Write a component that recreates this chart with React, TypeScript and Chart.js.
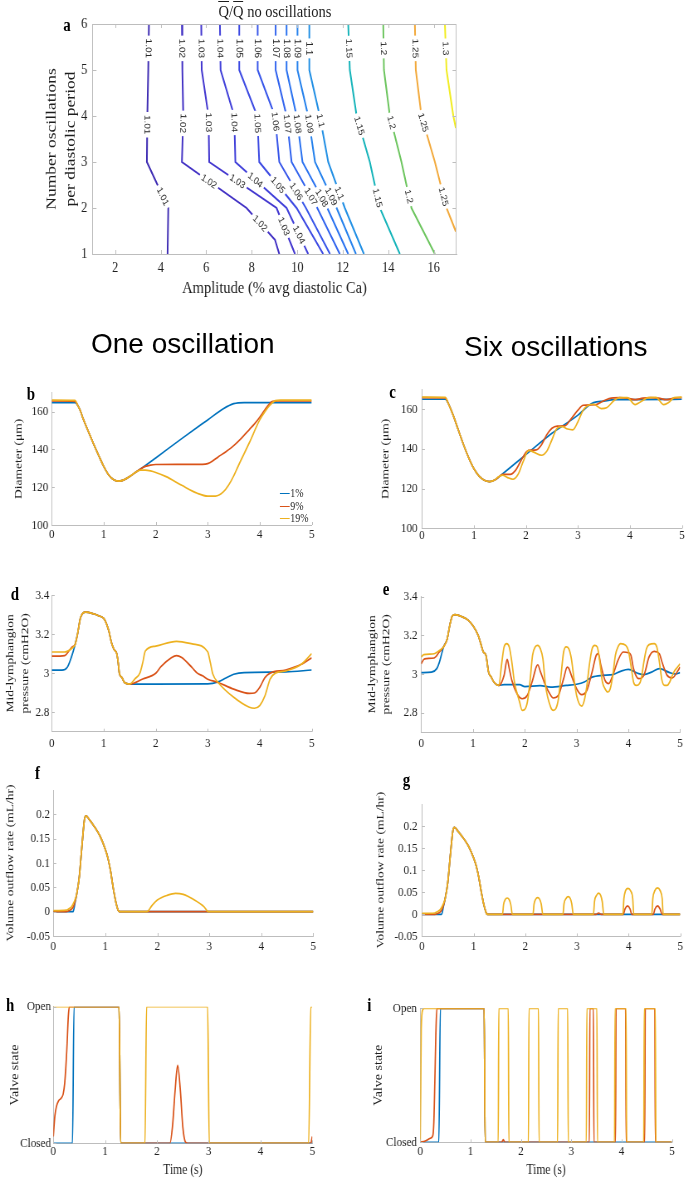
import React, { useEffect, useRef } from 'react';
import { Chart, registerables } from 'chart.js';

Chart.register(...registerables);

// The original figure is squeezed horizontally; reproduce that with one factor.
const S = 0.83;
const SERIF = '"Liberation Serif", "Times New Roman", Times, serif';
const SANS = '"Liberation Sans", Arial, Helvetica, sans-serif';
const INK = '#1e1e1e';
const AXIS = '#bdbdbd';
const BLUE = '#0072BD';
const ORANGE = '#D95319';
const YELLOW = '#EDB120';

type P = [number, number];

// ---------------- Panel a: contour map ----------------
const contourLevels = [1.01, 1.02, 1.03, 1.04, 1.05, 1.06, 1.07, 1.08, 1.09, 1.1, 1.15, 1.2, 1.25, 1.3];
const contourColors = ['#3f2db3', '#4231c4', '#4337cf', '#4140d9', '#3d4ae2', '#3856e9', '#3163ee', '#2a72f0', '#2581ec', '#218fe4', '#14b3b9', '#6dc55f', '#f2a93b', '#f1ec22'];
const c101: P[] = [[3.48, 6], [3.45, 5], [3.41, 4], [3.39, 3], [4.33, 2], [4.3, 1]];
const c102: P[] = [[4.93, 6], [4.95, 5], [4.99, 4], [4.93, 3], [7.77, 2], [9.02, 1.31], [9.21, 1]];
const c103: P[] = [[5.78, 6], [5.8, 5], [6.1, 4], [6.13, 3], [9.09, 2], [9.9, 1]];
const c104: P[] = [[6.6, 6], [6.63, 5], [7.23, 4], [7.28, 3], [9.53, 2], [10.48, 1]];
const c105: P[] = [[7.45, 6], [7.45, 5], [8.24, 4], [8.33, 3], [9.97, 2], [11.14, 1]];
const c106: P[] = [[8.26, 6], [8.26, 5], [9.02, 4], [9.21, 3], [10.38, 2], [11.44, 1]];
const c107: P[] = [[9.05, 6], [9.05, 5], [9.53, 4], [9.75, 3], [10.88, 2], [11.87, 1]];
const c108: P[] = [[9.53, 6], [9.53, 5], [9.97, 4], [10.23, 3], [11.32, 2], [12.24, 1]];
const c109: P[] = [[10.01, 6], [10.01, 5], [10.48, 4], [10.78, 3], [11.73, 2], [12.58, 1]];
const c110: P[] = [[10.53, 6], [10.53, 5], [10.99, 4], [11.36, 3], [12.09, 2], [12.93, 1]];
const c115: P[] = [[12.24, 6], [12.31, 5], [12.61, 4], [13.19, 3], [13.63, 2], [14.51, 1]];
const c120: P[] = [[13.78, 6], [13.81, 5], [14.07, 4], [14.58, 3], [15.02, 2], [16.05, 1]];
const c125: P[] = [[15.17, 6], [15.21, 5], [15.46, 4], [16.05, 3], [16.56, 2], [16.97, 1.49]];
const c130: P[] = [[16.49, 6], [16.56, 5], [16.86, 4], [16.97, 3.74]];
const contourLines = [c101, c102, c103, c104, c105, c106, c107, c108, c109, c110, c115, c120, c125, c130];
// [level index, y position] of each in-line label
const contourLabelSpots: P[] = [
  [0, 5.47], [1, 5.47], [2, 5.47], [3, 5.47], [4, 5.47], [5, 5.47], [6, 5.47], [7, 5.47], [8, 5.47], [9, 5.47], [10, 5.47], [11, 5.47], [12, 5.47], [13, 5.47],
  [0, 3.81], [1, 3.84], [2, 3.86], [3, 3.86], [4, 3.84], [5, 3.88], [6, 3.83], [7, 3.83], [8, 3.83], [9, 3.9], [10, 3.79], [11, 3.86], [12, 3.86],
  [0, 2.25], [1, 2.58], [2, 2.58], [3, 2.61], [4, 2.5], [5, 2.36], [6, 2.25], [7, 2.22], [8, 2.25], [9, 2.32], [10, 2.22], [11, 2.25], [12, 2.25],
  [1, 1.67], [2, 1.6], [3, 1.42],
];
const ampTicks = [2, 4, 6, 8, 10, 12, 14, 16];
const oscTicks = [1, 2, 3, 4, 5, 6];

// ---------------- shared ticks ----------------
const timeTicks = [0, 1, 2, 3, 4, 5];
const diamTicks = [100, 120, 140, 160];
const presTicks = [2.8, 3, 3.2, 3.4];
const flowTicks = [-0.05, 0, 0.05, 0.1, 0.15, 0.2];
const flowTickLabels = ['-0.05', '0', '0.05', '0.1', '0.15', '0.2'];
const valveTicks = [0, 1];
const valveTickLabels = ['Closed', 'Open'];
const legendLabels = ['1%', '9%', '19%'];
const legendColors = [BLUE, ORANGE, YELLOW];

// ---------------- b: diameter, one oscillation ----------------
const bDescent: P[] = [[0.5, 163.3], [0.55, 160.5], [0.6, 156.5], [0.7, 149.8], [0.8, 143.2], [0.9, 137], [1.0, 131], [1.1, 126.3], [1.2, 123.8], [1.3, 123.2], [1.4, 124], [1.5, 125.6], [1.6, 127.6]];
const bBlue: P[] = [[0, 164.8], [0.45, 164.7], ...bDescent, [1.7, 129.5], [2.0, 135.5], [2.5, 145.7], [3.0, 155.6], [3.3, 161.5], [3.5, 164.2], [3.7, 164.8], [5, 164.8]];
const bOrange: P[] = [[0, 165.6], [0.45, 165.4], ...bDescent, [1.7, 129.5], [1.8, 131], [1.9, 131.7], [2.0, 132], [2.9, 132.1], [3.0, 132.5], [3.1, 134], [3.2, 136], [3.35, 138.8], [3.5, 142], [3.65, 146], [3.8, 150.5], [3.9, 153.5], [4.0, 157], [4.1, 161], [4.2, 164.5], [4.25, 165.4], [4.35, 165.6], [5, 165.6]];
const bYellow: P[] = [[0, 166.1], [0.45, 165.9], ...bDescent, [1.7, 129], [1.8, 129], [1.9, 128.6], [2.0, 127.8], [2.2, 125.6], [2.5, 121], [2.8, 116.8], [3.0, 115.3], [3.15, 115.3], [3.3, 117.5], [3.4, 121], [3.5, 126], [3.6, 132], [3.8, 143.5], [4.0, 155.6], [4.1, 160], [4.2, 163.5], [4.3, 165.8], [4.4, 166.1], [5, 166.1]];

// ---------------- c: diameter, six oscillations ----------------
const cDescent: P[] = [[0.5, 163.3], [0.6, 157], [0.7, 149.5], [0.8, 142.1], [0.9, 135.5], [1.0, 130], [1.1, 126.3], [1.2, 124.2], [1.3, 123.5], [1.4, 124.3]];
const cBlue: P[] = [[0, 165], [0.45, 165], ...cDescent, [1.5, 126.3], [1.6, 128.5], [2.0, 137.1], [2.5, 147.9], [3.0, 157], [3.2, 161.7], [3.3, 163.3], [3.5, 164.1], [3.7, 164.8], [5, 165]];
const cOrange: P[] = [[0, 165.8], [0.45, 165.7], ...cDescent, [1.45, 125.2], [1.55, 127.2], [1.7, 127.2], [1.8, 129.2], [1.9, 133.8], [2.0, 138.3], [2.05, 139.3], [2.2, 139.5], [2.3, 142.1], [2.4, 147.1], [2.5, 150.4], [2.6, 151.5], [2.75, 151.6], [2.85, 154.5], [3.0, 159.5], [3.1, 162], [3.35, 162.3], [3.45, 163.6], [3.6, 165.3], [3.8, 165.8], [3.95, 165.6], [4.1, 164.8], [4.25, 165.6], [4.4, 165.8], [4.55, 165.6], [4.7, 164.8], [4.85, 165.6], [5, 165.8]];
const cYellow: P[] = [[0, 166.1], [0.45, 166], ...cDescent, [1.45, 125.5], [1.55, 126.8], [1.65, 125.5], [1.75, 124.7], [1.85, 127.2], [1.95, 133.8], [2.05, 139.3], [2.15, 138.4], [2.3, 136.8], [2.4, 138.8], [2.5, 144.6], [2.6, 150.4], [2.7, 151.2], [2.8, 150], [2.9, 149.6], [3.0, 153.7], [3.1, 159.5], [3.2, 162], [3.3, 162.5], [3.45, 160.3], [3.55, 160.7], [3.7, 164.5], [3.8, 165.8], [3.95, 165.8], [4.1, 162.3], [4.2, 163.6], [4.35, 165.8], [4.5, 166], [4.65, 162.3], [4.75, 163.5], [4.85, 165.8], [5, 166.1]];

// ---------------- d: pressure, one oscillation ----------------
const dPeak: P[] = [[0.45, 3.147], [0.5, 3.205], [0.55, 3.28], [0.6, 3.307], [0.65, 3.312], [0.8, 3.304], [0.9, 3.294], [1.0, 3.28], [1.05, 3.255], [1.1, 3.214], [1.15, 3.155], [1.2, 3.12], [1.25, 3.1], [1.28, 3.05], [1.3, 3.0], [1.35, 2.977], [1.4, 2.952], [1.5, 2.944]];
const dBlue: P[] = [[0, 3.015], [0.2, 3.015], [0.3, 3.03], [0.35, 3.06], [0.4, 3.1], ...dPeak, [2.0, 2.944], [3.0, 2.945], [3.2, 2.955], [3.35, 2.975], [3.5, 2.994], [3.7, 3.003], [4.5, 3.006], [5, 3.016]];
const dOrange: P[] = [[0, 3.087], [0.25, 3.09], [0.35, 3.12], [0.4, 3.135], ...dPeak, [1.75, 2.97], [2.0, 2.999], [2.1, 3.033], [2.3, 3.079], [2.4, 3.09], [2.5, 3.08], [2.7, 3.028], [2.8, 3.0], [2.9, 2.986], [3.0, 2.969], [3.2, 2.952], [3.5, 2.918], [3.8, 2.896], [3.9, 2.898], [4.0, 2.927], [4.1, 2.977], [4.2, 3.0], [4.5, 3.016], [4.8, 3.045], [5, 3.079]];
const dYellow: P[] = [[0, 3.108], [0.25, 3.108], [0.4, 3.13], ...dPeak, [1.6, 2.97], [1.7, 3.003], [1.75, 3.053], [1.8, 3.113], [2.0, 3.138], [2.4, 3.163], [2.7, 3.15], [3.0, 3.109], [3.05, 3.054], [3.1, 2.994], [3.2, 2.952], [3.5, 2.876], [3.8, 2.825], [3.9, 2.82], [4.0, 2.834], [4.1, 2.884], [4.2, 2.969], [4.3, 3.0], [4.5, 3.011], [4.8, 3.045], [5, 3.1]];

// ---------------- e: pressure, six oscillations ----------------
const ePeak: P[] = [[0.43, 3.14], [0.5, 3.18], [0.55, 3.25], [0.6, 3.3], [0.65, 3.307], [0.8, 3.295], [0.9, 3.28], [1.0, 3.25], [1.1, 3.2], [1.15, 3.157], [1.2, 3.114], [1.25, 3.097], [1.3, 3.01], [1.35, 2.985], [1.4, 2.96], [1.5, 2.941]];
const eBlue: P[] = [[0, 3.007], [0.2, 3.01], [0.3, 3.028], [0.35, 3.06], [0.4, 3.11], ...ePeak, [1.6, 2.945], [1.9, 2.945], [2.0, 2.935], [2.3, 2.94], [2.5, 2.932], [2.8, 2.941], [3.0, 2.947], [3.15, 2.959], [3.3, 2.984], [3.5, 2.993], [3.7, 2.997], [3.85, 3.014], [4.0, 3.024], [4.2, 3.002], [4.3, 2.997], [4.45, 3.01], [4.6, 3.028], [4.8, 3.007], [4.9, 3.0], [5, 3.007]];
const eOrange: P[] = [[0, 3.053], [0.05, 3.076], [0.1, 3.08], [0.25, 3.083], [0.35, 3.114], ...ePeak, [1.6, 2.993], [1.66, 3.076], [1.7, 3.028], [1.75, 2.967], [1.85, 2.898], [1.95, 2.872], [2.05, 2.89], [2.15, 2.967], [2.22, 3.036], [2.25, 3.048], [2.3, 3.014], [2.4, 2.941], [2.5, 2.89], [2.55, 2.876], [2.65, 2.89], [2.75, 2.976], [2.82, 3.036], [2.85, 3.03], [2.9, 2.993], [3.0, 2.924], [3.1, 2.893], [3.2, 2.916], [3.3, 3.01], [3.38, 3.097], [3.42, 3.105], [3.47, 3.045], [3.55, 2.967], [3.62, 2.95], [3.7, 2.993], [3.8, 3.071], [3.9, 3.114], [4.0, 3.11], [4.05, 3.097], [4.1, 3.028], [4.2, 2.976], [4.3, 2.993], [4.4, 3.088], [4.5, 3.117], [4.6, 3.105], [4.65, 3.062], [4.75, 2.993], [4.85, 2.98], [4.95, 3.014], [5, 3.036]];
const eYellow: P[] = [[0, 3.088], [0.05, 3.1], [0.25, 3.105], [0.35, 3.122], ...ePeak, [1.55, 3.045], [1.6, 3.14], [1.65, 3.157], [1.7, 3.14], [1.75, 3.062], [1.8, 2.959], [1.9, 2.855], [1.95, 2.812], [2.0, 2.817], [2.05, 2.855], [2.1, 2.959], [2.15, 3.097], [2.2, 3.14], [2.25, 3.148], [2.3, 3.131], [2.35, 3.079], [2.4, 2.941], [2.5, 2.829], [2.55, 2.812], [2.6, 2.821], [2.65, 2.872], [2.7, 2.993], [2.75, 3.114], [2.8, 3.14], [2.85, 3.131], [2.9, 3.079], [2.95, 2.976], [3.0, 2.89], [3.05, 2.847], [3.1, 2.834], [3.15, 2.864], [3.2, 2.941], [3.25, 3.053], [3.3, 3.131], [3.35, 3.148], [3.4, 3.14], [3.45, 3.062], [3.5, 2.959], [3.55, 2.924], [3.6, 2.907], [3.65, 2.924], [3.7, 2.993], [3.75, 3.097], [3.8, 3.14], [3.85, 3.157], [3.95, 3.148], [4.0, 3.122], [4.05, 3.045], [4.1, 2.959], [4.15, 2.941], [4.2, 2.945], [4.25, 2.976], [4.3, 3.062], [4.35, 3.131], [4.4, 3.152], [4.5, 3.157], [4.55, 3.14], [4.6, 3.062], [4.65, 2.967], [4.7, 2.941], [4.75, 2.941], [4.8, 2.959], [4.85, 2.993], [4.9, 3.019], [4.95, 3.036], [5, 3.053]];

// ---------------- f / g: outflow ----------------
const pulse: P[] = [[0.45, 0.036], [0.5, 0.072], [0.55, 0.134], [0.6, 0.19], [0.63, 0.197], [0.7, 0.188], [0.8, 0.173], [0.9, 0.155], [1.0, 0.128], [1.05, 0.11], [1.1, 0.084], [1.15, 0.05], [1.2, 0.021], [1.25, 0.002], [1.27, 0]];
const fBlue: P[] = [[0, 0], [0.38, 0], [0.42, 0.02], ...pulse, [5, 0]];
const fOrange: P[] = [[0, 0], [0.25, 0], [0.3, 0.002], [0.35, 0.005], [0.4, 0.014], ...pulse, [5, 0]];
const fYellow: P[] = [[0, 0.002], [0.25, 0.003], [0.3, 0.006], [0.35, 0.01], [0.4, 0.02], ...pulse, [1.8, 0], [1.9, 0.013], [2.0, 0.024], [2.2, 0.034], [2.35, 0.0377], [2.5, 0.0356], [2.7, 0.025], [2.9, 0.01], [2.98, 0], [5, 0]];
const gBlue: P[] = [[0, 0], [0.38, 0], [0.42, 0.02], ...pulse, [5, 0]];
const gOrange: P[] = [[0, 0], [0.25, 0], [0.3, 0.002], [0.35, 0.005], [0.4, 0.014], ...pulse, [3.37, 0], [3.42, 0.003], [3.47, 0], [3.9, 0], [3.93, 0.012], [3.98, 0.019], [4.03, 0.012], [4.06, 0], [4.48, 0], [4.51, 0.012], [4.56, 0.019], [4.61, 0.012], [4.65, 0], [5, 0]];
const gYellow: P[] = [[0, 0.002], [0.25, 0.003], [0.3, 0.006], [0.35, 0.01], [0.4, 0.02], ...pulse,
  [1.56, 0], [1.58, 0.022], [1.61, 0.033], [1.65, 0.037], [1.69, 0.033], [1.72, 0.022], [1.75, 0],
  [2.15, 0], [2.17, 0.023], [2.2, 0.034], [2.24, 0.038], [2.28, 0.034], [2.31, 0.023], [2.34, 0],
  [2.73, 0], [2.75, 0.024], [2.79, 0.036], [2.83, 0.04], [2.87, 0.036], [2.9, 0.024], [2.93, 0],
  [3.32, 0], [3.34, 0.029], [3.38, 0.043], [3.42, 0.048], [3.46, 0.043], [3.49, 0.029], [3.52, 0],
  [3.89, 0], [3.91, 0.036], [3.94, 0.053], [3.99, 0.059], [4.04, 0.053], [4.08, 0.036], [4.1, 0],
  [4.45, 0], [4.47, 0.036], [4.51, 0.054], [4.56, 0.06], [4.61, 0.054], [4.65, 0.036], [4.67, 0], [5, 0]];

// ---------------- h / i: valve state ----------------
const hBlue: P[] = [[0, 0], [0.37, 0], [0.4, 1], [1.27, 1], [1.3, 0], [5, 0]];
const hOrange: P[] = [[0, 0.05], [0.03, 0.2], [0.06, 0.27], [0.1, 0.31], [0.15, 0.33], [0.19, 0.36], [0.22, 0.44], [0.26, 0.68], [0.29, 0.93], [0.31, 1], [1.27, 1], [1.3, 0], [2.25, 0], [2.3, 0.12], [2.35, 0.38], [2.4, 0.57], [2.45, 0.4], [2.5, 0.12], [2.55, 0.01], [2.6, 0], [4.97, 0], [5, 0.05]];
const hYellow: P[] = [[0, 1], [1.27, 1], [1.3, 0], [1.77, 0], [1.8, 1], [2.98, 1], [3.01, 0], [4.93, 0], [4.97, 1], [5, 1]];
const iBlue: P[] = [[0, 0], [0.37, 0], [0.4, 1], [1.27, 1], [1.29, 0], [5, 0]];
const iOrange: P[] = [[0, 0], [0.1, 0.01], [0.2, 0.03], [0.25, 0.05], [0.27, 0.15], [0.29, 0.45], [0.31, 0.8], [0.33, 1], [1.27, 1], [1.29, 0], [1.62, 0], [1.65, 0.02], [1.68, 0], [3.36, 0], [3.37, 1], [3.44, 1], [3.45, 0], [3.88, 0], [3.89, 1], [4.08, 1], [4.09, 0], [4.46, 0], [4.47, 1], [4.66, 1], [4.67, 0], [5, 0]];
const iYellow: P[] = [[0, 0], [0.01, 0.4], [0.02, 0.85], [0.05, 0.99], [0.08, 1], [1.27, 1], [1.29, 0], [1.55, 0], [1.56, 1], [1.75, 1], [1.76, 0], [2.15, 0], [2.16, 1], [2.35, 1], [2.36, 0], [2.73, 0], [2.74, 1], [2.93, 1], [2.94, 0], [3.3, 0], [3.31, 1], [3.51, 1], [3.52, 0], [3.86, 0], [3.87, 1], [4.09, 1], [4.1, 0], [4.44, 0], [4.45, 1], [4.67, 1], [4.68, 0], [5, 0]];

// ---------------- text placement ----------------
const panelLetters = ['a', 'b', 'c', 'd', 'e', 'f', 'g', 'h', 'i'];
const letterLeft = [63.3, 26.7, 389.3, 10.7, 382.7, 35, 402.7, 6, 367.3];
const letterBase = [30.7, 400, 398.3, 600, 595, 779.3, 786, 1011, 1011];

type Line = { data: P[]; color: string; width: number; smooth: boolean };
type Spec = {
  box: number[]; area: number[];
  xr: number[]; yr: number[];
  xTicks: number[]; xLabels: string[]; yTicks: number[]; yLabels: string[];
  tickFont: number; xTickCenterY: number; yTickRight: number;
  yTitle: string | string[]; yTitleX: number; yTitleFont: number; yTitleLH: number;
  xTitle?: string; xTitleFont?: number; xTitleCenterY?: number;
  lines: Line[]; framed: boolean; tickLen: number; contourLabels?: boolean;
};

const trio = (b: P[], o: P[], y: P[], smooth = true): Line[] => [
  { data: b, color: BLUE, width: 1.7, smooth },
  { data: o, color: ORANGE, width: 1.7, smooth },
  { data: y, color: YELLOW, width: 1.7, smooth },
];
const str = (a: number[]) => a.map((v) => String(v));

const specs: Spec[] = [
  {
    box: [0, 0, 470, 300], area: [92.5, 24, 456.5, 254], xr: [1, 17], yr: [1, 6],
    xTicks: ampTicks, xLabels: str(ampTicks), yTicks: oscTicks, yLabels: str(oscTicks),
    tickFont: 15, xTickCenterY: 268.3, yTickRight: 87.3,
    yTitle: ['Number oscillations', 'per diastolic period'], yTitleX: 51.7, yTitleFont: 17.5, yTitleLH: 19,
    xTitle: 'Amplitude (% avg diastolic Ca)', xTitleFont: 17.5, xTitleCenterY: 288,
    lines: contourLines.map((d, i) => ({ data: d, color: contourColors[i], width: 2, smooth: false })),
    framed: true, tickLen: 4, contourLabels: true,
  },
  {
    box: [0, 380, 330, 170], area: [51.7, 392.7, 311.7, 525], xr: [0, 5], yr: [100, 170],
    xTicks: timeTicks, xLabels: str(timeTicks), yTicks: diamTicks, yLabels: str(diamTicks),
    tickFont: 13.4, xTickCenterY: 534.3, yTickRight: 48.3,
    yTitle: 'Diameter (μm)', yTitleX: 18.3, yTitleFont: 13.5, yTitleLH: 0,
    lines: trio(bBlue, bOrange, bYellow), framed: false, tickLen: 3,
  },
  {
    box: [360, 376, 325, 174], area: [421.7, 388.3, 681.7, 528.3], xr: [0, 5], yr: [100, 170],
    xTicks: timeTicks, xLabels: str(timeTicks), yTicks: diamTicks, yLabels: str(diamTicks),
    tickFont: 13.4, xTickCenterY: 535.5, yTickRight: 417.3,
    yTitle: 'Diameter (μm)', yTitleX: 385, yTitleFont: 13.5, yTitleLH: 0,
    lines: trio(cBlue, cOrange, cYellow), framed: false, tickLen: 3,
  },
  {
    box: [0, 578, 330, 172], area: [51.7, 595, 311.7, 731.7], xr: [0, 5], yr: [2.7, 3.4],
    xTicks: timeTicks, xLabels: str(timeTicks), yTicks: presTicks, yLabels: str(presTicks),
    tickFont: 13.4, xTickCenterY: 743.3, yTickRight: 49.3,
    yTitle: ['Mid-lymphangion', 'pressure (cmH2O)'], yTitleX: 10, yTitleFont: 13.5, yTitleLH: 15,
    lines: trio(dBlue, dOrange, dYellow), framed: false, tickLen: 3,
  },
  {
    box: [360, 578, 325, 172], area: [421, 596.7, 682.7, 732], xr: [0, 5], yr: [2.7, 3.4],
    xTicks: timeTicks, xLabels: str(timeTicks), yTicks: presTicks, yLabels: str(presTicks),
    tickFont: 13.4, xTickCenterY: 743.3, yTickRight: 417.3,
    yTitle: ['Mid-lymphangion', 'pressure (cmH2O)'], yTitleX: 372, yTitleFont: 13.5, yTitleLH: 14.5,
    lines: trio(eBlue, eOrange, eYellow), framed: false, tickLen: 3,
  },
  {
    box: [0, 776, 330, 182], area: [53.3, 790, 313.3, 936], xr: [0, 5], yr: [-0.05, 0.25],
    xTicks: timeTicks, xLabels: str(timeTicks), yTicks: flowTicks, yLabels: flowTickLabels,
    tickFont: 13.4, xTickCenterY: 946.5, yTickRight: 50,
    yTitle: 'Volume outflow rate (mL/hr)', yTitleX: 10, yTitleFont: 13.5, yTitleLH: 0,
    lines: trio(fBlue, fOrange, fYellow), framed: false, tickLen: 3,
  },
  {
    box: [360, 788, 325, 170], area: [421.7, 804, 680, 936.4], xr: [0, 5], yr: [-0.05, 0.25],
    xTicks: timeTicks, xLabels: str(timeTicks), yTicks: flowTicks, yLabels: flowTickLabels,
    tickFont: 13.4, xTickCenterY: 946.5, yTickRight: 417.3,
    yTitle: 'Volume outflow rate (mL/hr)', yTitleX: 380, yTitleFont: 13.5, yTitleLH: 0,
    lines: trio(gBlue, gOrange, gYellow), framed: false, tickLen: 3,
  },
  {
    box: [0, 990, 330, 188], area: [53.3, 1006.7, 312.3, 1143.3], xr: [0, 5], yr: [0, 1],
    xTicks: timeTicks, xLabels: str(timeTicks), yTicks: valveTicks, yLabels: valveTickLabels,
    tickFont: 13.4, xTickCenterY: 1151.7, yTickRight: 51,
    yTitle: 'Valve state', yTitleX: 15, yTitleFont: 14, yTitleLH: 0,
    xTitle: 'Time (s)', xTitleFont: 14, xTitleCenterY: 1170,
    lines: trio(hBlue, hOrange, hYellow), framed: false, tickLen: 3,
  },
  {
    box: [360, 990, 325, 188], area: [420, 1008.3, 671.7, 1142.3], xr: [0, 5], yr: [0, 1],
    xTicks: timeTicks, xLabels: str(timeTicks), yTicks: valveTicks, yLabels: valveTickLabels,
    tickFont: 13.4, xTickCenterY: 1151.7, yTickRight: 416.7,
    yTitle: 'Valve state', yTitleX: 378.3, yTitleFont: 14, yTitleLH: 0,
    xTitle: 'Time (s)', xTitleFont: 14, xTitleCenterY: 1170,
    lines: trio(iBlue, iOrange, iYellow), framed: false, tickLen: 3,
  },
];

function makeFramePlugin(framed: boolean, tl: number) {
  return {
    id: 'frame',
    afterDraw(chart: any) {
      const { ctx, chartArea, scales } = chart;
      const { left, right, top, bottom } = chartArea;
      const x = scales.x;
      const y = scales.y;
      ctx.save();
      ctx.strokeStyle = AXIS;
      ctx.lineWidth = 1;
      ctx.beginPath();
      if (framed) {
        ctx.moveTo(left, Math.round(top) + 0.5);
        ctx.lineTo(right, Math.round(top) + 0.5);
        ctx.moveTo(Math.round(right) - 0.5, top);
        ctx.lineTo(Math.round(right) - 0.5, bottom);
      }
      for (const t of x.ticks) {
        const px = Math.round(x.getPixelForValue(t.value)) + 0.5;
        ctx.moveTo(px, bottom);
        ctx.lineTo(px, bottom - tl);
        if (framed) {
          ctx.moveTo(px, top);
          ctx.lineTo(px, top + tl);
        }
      }
      for (const t of y.ticks) {
        const py = Math.round(y.getPixelForValue(t.value)) + 0.5;
        ctx.moveTo(left, py);
        ctx.lineTo(left + tl / S, py);
        if (framed) {
          ctx.moveTo(right, py);
          ctx.lineTo(right - tl / S, py);
        }
      }
      ctx.stroke();
      ctx.restore();
    },
  };
}

const contourLabelPlugin = {
  id: 'clabels',
  afterDatasetsDraw(chart: any) {
    const { ctx, scales } = chart;
    const x = scales.x;
    const y = scales.y;
    ctx.save();
    ctx.font = `10px ${SANS}`;
    ctx.textAlign = 'center';
    ctx.textBaseline = 'middle';
    for (const [li, yv] of contourLabelSpots) {
      const line = contourLines[li];
      for (let k = 0; k < line.length - 1; k++) {
        const [x1, y1] = line[k];
        const [x2, y2] = line[k + 1];
        if (yv <= y1 && yv >= y2) {
          const f = (y1 - yv) / (y1 - y2);
          const xv = x1 + f * (x2 - x1);
          const px = x.getPixelForValue(xv);
          const py = y.getPixelForValue(yv);
          const ang = Math.atan2(y.getPixelForValue(y2) - y.getPixelForValue(y1), x.getPixelForValue(x2) - x.getPixelForValue(x1));
          const txt = String(contourLevels[li]);
          const w = ctx.measureText(txt).width;
          ctx.save();
          ctx.translate(px, py);
          ctx.rotate(ang);
          ctx.fillStyle = '#ffffff';
          ctx.fillRect(-w / 2 - 3, -5.5, w + 6, 11);
          ctx.fillStyle = '#262626';
          ctx.fillText(txt, 0, 0.5);
          ctx.restore();
          break;
        }
      }
    }
    ctx.restore();
  },
};

function PlotCanvas({ spec }: { spec: Spec }) {
  const ref = useRef<HTMLCanvasElement>(null);
  const [bl, bt, bw, bh] = spec.box;
  const cw = Math.round(bw / S);
  const ch = Math.round(bh);
  useEffect(() => {
    const [L, T, R, B] = spec.area;
    const yw = (L - bl) / S;
    const padR = cw - (R - bl) / S;
    const padT = T - bt;
    const xh = bt + ch - B;
    const tickLH = spec.tickFont * 1.2;
    const xTickPad = spec.xTickCenterY - B - tickLH / 2;
    const yTickPad = (L - spec.yTickRight) / S;
    const yLH = spec.yTitleLH ? spec.yTitleLH / S : spec.yTitleFont * 1.2;
    const yTitlePad = (spec.yTitleX - bl) / S - yLH / 2;
    const xTitleFont = spec.xTitleFont || 14;
    const xLH = xTitleFont * 1.15;
    const xTitlePad = spec.xTitleCenterY ? bt + ch - spec.xTitleCenterY - xLH / 2 : 0;
    const n = spec.lines.length;
    const plugins: any[] = [makeFramePlugin(spec.framed, spec.tickLen)];
    if (spec.contourLabels) plugins.push(contourLabelPlugin);
    const chart = new Chart(ref.current as HTMLCanvasElement, {
      type: 'line',
      data: {
        datasets: spec.lines.map((l, i) => ({
          data: l.data.map(([xv, yv]) => ({ x: xv, y: yv })),
          borderColor: l.color,
          borderWidth: l.width,
          pointRadius: 0,
          fill: false,
          tension: 0,
          cubicInterpolationMode: l.smooth ? 'monotone' : 'default',
          order: n - i,
        })),
      },
      options: {
        responsive: false,
        animation: false,
        devicePixelRatio: 1,
        events: [],
        layout: { autoPadding: false, padding: { left: 0, right: padR, top: padT, bottom: 0 } },
        plugins: { legend: { display: false }, tooltip: { enabled: false }, title: { display: false } },
        scales: {
          x: {
            type: 'linear',
            min: spec.xr[0],
            max: spec.xr[1],
            afterBuildTicks: (s: any) => { s.ticks = spec.xTicks.map((v) => ({ value: v })); },
            afterFit: (s: any) => { s.height = xh; },
            grid: { display: false, drawTicks: false },
            border: { display: true, color: AXIS, width: 1 },
            ticks: {
              autoSkip: false, maxRotation: 0, minRotation: 0, padding: xTickPad, color: INK,
              font: { family: SERIF, size: spec.tickFont, lineHeight: 1.2 },
              callback: (_v: any, i: number) => spec.xLabels[i],
            },
            title: spec.xTitle
              ? { display: true, text: spec.xTitle, color: INK, font: { family: SERIF, size: xTitleFont, lineHeight: 1.15 }, padding: { top: 0, bottom: xTitlePad } }
              : { display: false },
          },
          y: {
            type: 'linear',
            min: spec.yr[0],
            max: spec.yr[1],
            afterBuildTicks: (s: any) => { s.ticks = spec.yTicks.map((v) => ({ value: v })); },
            afterFit: (s: any) => { s.width = yw; },
            grid: { display: false, drawTicks: false },
            border: { display: true, color: AXIS, width: 1 },
            ticks: {
              autoSkip: false, padding: yTickPad, color: INK,
              font: { family: SERIF, size: spec.tickFont, lineHeight: 1.2 },
              callback: (_v: any, i: number) => spec.yLabels[i],
            },
            title: {
              display: true, text: spec.yTitle, color: INK,
              font: { family: SERIF, size: spec.yTitleFont, lineHeight: `${yLH}px` },
              padding: { top: yTitlePad, bottom: 0 },
            },
          },
        },
      } as any,
      plugins,
    });
    return () => chart.destroy();
  }, []);
  return <canvas ref={ref} width={cw} height={ch} style={{ position: 'absolute', left: bl / S, top: bt }} />;
}

const barQ = { display: 'inline-block', borderTop: `1px solid ${INK}`, lineHeight: 1, paddingTop: 1 } as const;

export default function App() {
  const letterSize = 18;
  return (
    <div style={{ position: 'absolute', left: 0, top: 0, width: 685, height: 1178, overflow: 'hidden', background: '#ffffff' }}>
      <div style={{ position: 'absolute', left: 0, top: 0, width: 685 / S, height: 1178, transform: `scaleX(${S})`, transformOrigin: '0 0' }}>
        {specs.map((s, i) => <PlotCanvas key={i} spec={s} />)}
        {panelLetters.map((l, i) => (
          <div key={l} style={{ position: 'absolute', left: letterLeft[i] / S, top: letterBase[i] - 0.8375 * letterSize, fontFamily: SERIF, fontSize: letterSize, fontWeight: 700, lineHeight: 1, color: '#000', whiteSpace: 'nowrap' }}>{l}</div>
        ))}
        <div style={{ position: 'absolute', left: 275 / S, top: 15.5 - 0.8375 * 17.5, transform: 'translateX(-50%)', fontFamily: SERIF, fontSize: 17.5, lineHeight: 1, color: INK, whiteSpace: 'nowrap' }}>
          <span style={barQ}>Q</span>/<span style={barQ}>Q</span> no oscillations
        </div>
        {legendLabels.map((lab, i) => (
          <div key={lab} style={{ position: 'absolute', left: 279.3 / S, top: [493.3, 506, 518.3][i] - 7, height: 14, display: 'flex', alignItems: 'center', fontFamily: SERIF, fontSize: 12, lineHeight: 1, color: INK, whiteSpace: 'nowrap' }}>
            <span style={{ display: 'inline-block', width: 10 / S, height: 0, borderTop: `1.6px solid ${legendColors[i]}` }} />
            <span style={{ marginLeft: 1 / S }}>{lab}</span>
          </div>
        ))}
      </div>
      <div style={{ position: 'absolute', left: 182.8, top: 353.3 - 0.8465 * 28, transform: 'translateX(-50%)', fontFamily: SANS, fontSize: 28, lineHeight: 1, color: '#000', whiteSpace: 'nowrap' }}>One oscillation</div>
      <div style={{ position: 'absolute', left: 555.8, top: 356.7 - 0.8465 * 28, transform: 'translateX(-50%)', fontFamily: SANS, fontSize: 28, lineHeight: 1, color: '#000', whiteSpace: 'nowrap' }}>Six oscillations</div>
    </div>
  );
}
